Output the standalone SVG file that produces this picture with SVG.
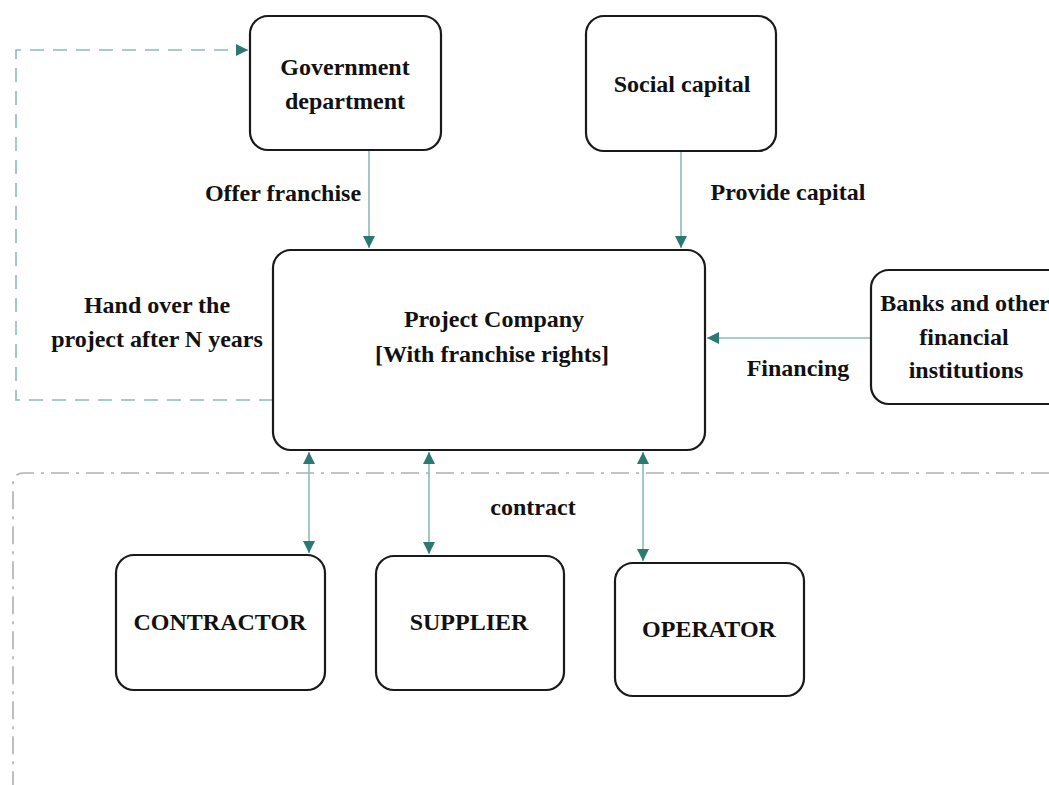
<svg xmlns="http://www.w3.org/2000/svg" width="1049" height="785" viewBox="0 0 1049 785">
<defs>
<style>
.box{fill:#fff;stroke:#1a1a1a;stroke-width:2.2}
.t{font-family:"Liberation Serif",serif;font-weight:bold;font-size:24px;fill:#111;text-anchor:middle}
.c{stroke:#8bbcb8;stroke-width:1.6;fill:none}
.d{stroke:#8bbcb8;stroke-width:1.6;fill:none;stroke-dasharray:14 9}
.dd{stroke:#b0b0b0;stroke-width:1.6;fill:none;stroke-dasharray:18 7 3 7}
</style>
<marker id="ah" markerWidth="12" markerHeight="12" refX="10" refY="5" orient="auto" markerUnits="userSpaceOnUse" viewBox="0 0 10 10">
<path d="M0,0 L10,5 L0,10 z" fill="#2a7a72"/>
</marker>
<marker id="as" markerWidth="12" markerHeight="12" refX="0" refY="5" orient="auto" markerUnits="userSpaceOnUse" viewBox="0 0 10 10">
<path d="M10,0 L0,5 L10,10 z" fill="#2a7a72"/>
</marker>
</defs>
<rect width="1049" height="785" fill="#fff"/>
<g id="connectors">
<path class="dd" d="M1049,473 H24 Q13,473 13,484 V785"/>
<path class="d" d="M273,400 H16 V50 H248" marker-end="url(#ah)"/>
<line class="c" x1="369" y1="150" x2="369" y2="248" marker-end="url(#ah)"/>
<line class="c" x1="681" y1="151" x2="681" y2="248" marker-end="url(#ah)"/>
<line class="c" x1="871" y1="338" x2="707" y2="338" marker-end="url(#ah)"/>
<line class="c" x1="309" y1="452" x2="309" y2="553" marker-start="url(#as)" marker-end="url(#ah)"/>
<line class="c" x1="429" y1="452" x2="429" y2="554" marker-start="url(#as)" marker-end="url(#ah)"/>
<line class="c" x1="643" y1="452" x2="643" y2="561" marker-start="url(#as)" marker-end="url(#ah)"/>
<text class="t" x="283" y="201">Offer franchise</text>
<text class="t" x="788" y="200">Provide capital</text>
<text class="t" x="798" y="376">Financing</text>
<text class="t" x="157" y="313">Hand over the</text>
<text class="t" x="157" y="347">project after N years</text>
<text class="t" x="533" y="515">contract</text>
</g>
<g id="gov">
<rect class="box" x="250" y="16" width="191" height="134" rx="18"/>
<text class="t" x="345" y="75">Government</text>
<text class="t" x="345" y="109">department</text>
</g>
<g id="social">
<rect class="box" x="586" y="16" width="190" height="135" rx="18"/>
<text class="t" x="682" y="92">Social capital</text>
</g>
<g id="company">
<rect class="box" x="273" y="250" width="432" height="200" rx="18"/>
<text class="t" x="494" y="327">Project Company</text>
<text class="t" x="492" y="362">[With franchise rights]</text>
</g>
<g id="banks">
<rect class="box" x="871" y="270" width="200" height="134" rx="18"/>
<text class="t" x="965" y="311">Banks and other</text>
<text class="t" x="964" y="345">financial</text>
<text class="t" x="966" y="378">institutions</text>
</g>
<g id="contractor">
<rect class="box" x="116" y="555" width="209" height="135" rx="18"/>
<text class="t" x="220" y="630">CONTRACTOR</text>
</g>
<g id="supplier">
<rect class="box" x="376" y="556" width="188" height="134" rx="18"/>
<text class="t" x="469" y="630">SUPPLIER</text>
</g>
<g id="operator">
<rect class="box" x="615" y="563" width="189" height="133" rx="18"/>
<text class="t" x="709" y="637">OPERATOR</text>
</g>
</svg>
